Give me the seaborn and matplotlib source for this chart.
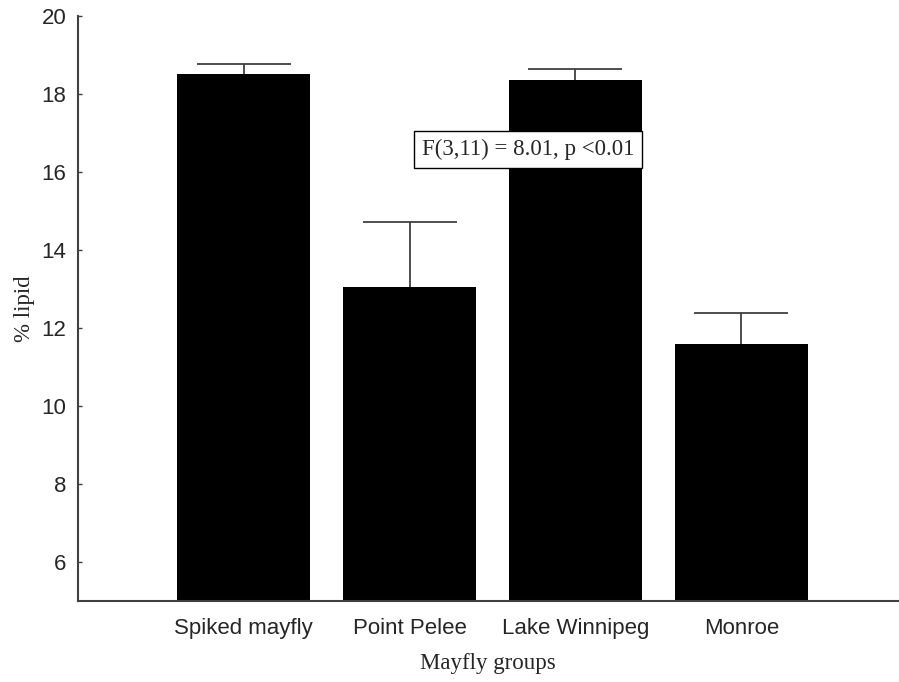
import numpy as np
import pandas as pd
import matplotlib
matplotlib.use('Agg')
import matplotlib.pyplot as plt
import seaborn as sns

# --- data ---
groups = ['Spiked mayfly', 'Point Pelee', 'Lake Winnipeg', 'Monroe']
lipid_mean = [18.52, 13.04, 18.37, 11.58]
lipid_err = [0.25, 1.68, 0.26, 0.81]   # upper error only
stat_text = 'F(3,11) = 8.01, p <0.01'

df = pd.DataFrame({'group': groups, 'lipid': lipid_mean})

sns.set_style('white')
plt.rcParams['font.family'] = ['Liberation Sans', 'DejaVu Sans']

fig = plt.figure(figsize=(8.99, 6.82), dpi=100)
ax = fig.add_axes([0.0864, 0.1188, 0.9136, 0.8577])

sns.barplot(data=df, x='group', y='lipid', color='black', width=0.805,
            saturation=1, edgecolor='black', linewidth=0, ax=ax)

# upper error bars only
xpos = np.arange(len(groups))
eb = ax.errorbar(xpos, lipid_mean, yerr=[np.zeros(len(groups)), lipid_err],
                 fmt='none', ecolor='#404040', elinewidth=1.3, capsize=33.5,
                 capthick=1.3, zorder=3)
# hide the lower caps (they sit on the bar tops)
eb[1][0].set_visible(False)

ax.set_ylim(5, 20)
ax.set_xlim(-1.0, 3.95)
ax.set_yticks([6, 8, 10, 12, 14, 16, 18, 20])

serif = ['Liberation Serif', 'DejaVu Serif']
ax.set_xlabel('Mayfly groups', family=serif, fontsize=16.5, labelpad=10)
ax.set_ylabel('% lipid', family=serif, fontsize=16.5, labelpad=5)

ax.tick_params(axis='y', direction='in', length=3, width=1, color='#404040',
               labelsize=16, pad=8, left=True)
ax.tick_params(axis='x', length=0, labelsize=16, pad=12)

for side in ['top', 'right']:
    ax.spines[side].set_visible(False)
for side in ['left', 'bottom']:
    ax.spines[side].set_color('#404040')
    ax.spines[side].set_linewidth(1.5)

ax.text(1.715, 16.58, stat_text, family=serif, fontsize=16.5, ha='center', va='center',
        bbox=dict(boxstyle='square,pad=0.35', facecolor='white', edgecolor='black', linewidth=1))

fig.savefig('out.png', dpi=100)
